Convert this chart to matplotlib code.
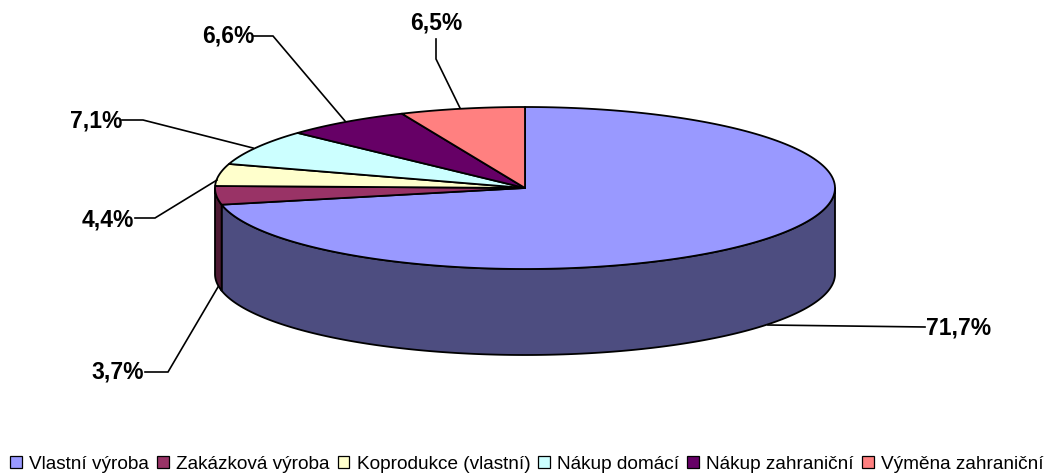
import numpy as np
import matplotlib
matplotlib.use('Agg')
import matplotlib.pyplot as plt
from matplotlib.patches import Polygon, Patch
import matplotlib.patheffects as pe

plt.rcParams['font.family'] = ['Liberation Sans', 'DejaVu Sans']

categories = ['Vlastní výroba', 'Zakázková výroba', 'Koprodukce (vlastní)',
              'Nákup domácí', 'Nákup zahraniční', 'Výměna zahraniční']
values = [71.7, 3.7, 4.4, 7.1, 6.6, 6.5]
colors = ['#9999FF', '#993366', '#FFFFCC', '#CCFFFF', '#660066', '#FF8080']
wall_colors = ['#4D4D80', '#4D1A33', '#808066', '#668080', '#330033', '#804040']

# pie geometry in pixels
cx, cy = 525, 188
rx, ry = 310, 81
depth = 86

fig = plt.figure(figsize=(10.45, 4.73), dpi=100)
ax = fig.add_axes([0, 0, 1, 1])
ax.set_xlim(0, 1045)
ax.set_ylim(473, 0)
ax.axis('off')


def rim(a, b, dy=0):
  t = np.radians(np.linspace(a, b, 200))
  return np.column_stack([cx + rx*np.cos(t), cy - ry*np.sin(t) + dy])


bounds = 90 - np.cumsum([0] + values)*3.6

# side walls, only the front half of the ellipse shows
for i in range(len(values)):
  start, end = bounds[i], bounds[i+1]
  a = min(start, 0)
  b = max(end, -180)
  if a <= b:
    continue
  top = rim(a, b)
  ax.add_patch(Polygon(np.vstack([top, rim(b, a, depth)]), closed=True,
                       fc=wall_colors[i], ec='black', lw=1.3, joinstyle='round'))

# top faces
for i in range(len(values)):
  pts = np.vstack([[[cx, cy]], rim(bounds[i], bounds[i+1])])
  ax.add_patch(Polygon(pts, closed=True, fc=colors[i], ec='black', lw=1.3,
                       joinstyle='round'))

# leader lines: start, elbow, end and label spot
leaders = [
  [(768, 325), (925, 327)],
  [(218, 287), (168, 372), (145, 372)],
  [(217, 180), (155, 218), (135, 218)],
  [(253, 148), (143, 120), (122, 120)],
  [(345, 121), (273, 36), (253, 36)],
  [(460, 108), (436, 59), (436, 39)],
]
label_pos = [(959, 328), (118, 372), (108, 220), (96, 121), (228, 36), (436, 23)]

for i, v in enumerate(values):
  xs, ys = zip(*leaders[i])
  ax.plot(xs, ys, color='black', lw=1.2, solid_joinstyle='miter')
  ax.text(label_pos[i][0], label_pos[i][1], f'{v:.1f}%'.replace('.', ','),
          ha='center', va='center', fontsize=16.5, fontweight='bold', color='black')

handles = [Patch(fc=c, ec='black', lw=0.9,
                 path_effects=[pe.SimplePatchShadow(offset=(1, -1), shadow_rgbFace='#808080', alpha=1),
                               pe.Normal()])
           for c in colors]
ax.legend(handles, categories, ncol=6, frameon=False, fontsize=13.7,
          loc='center', bbox_to_anchor=(527, 464), bbox_transform=ax.transData,
          handlelength=0.6, handleheight=0.6, handletextpad=0.4,
          columnspacing=0.42, borderpad=0, borderaxespad=0)

fig.savefig('out.png', dpi=100)
